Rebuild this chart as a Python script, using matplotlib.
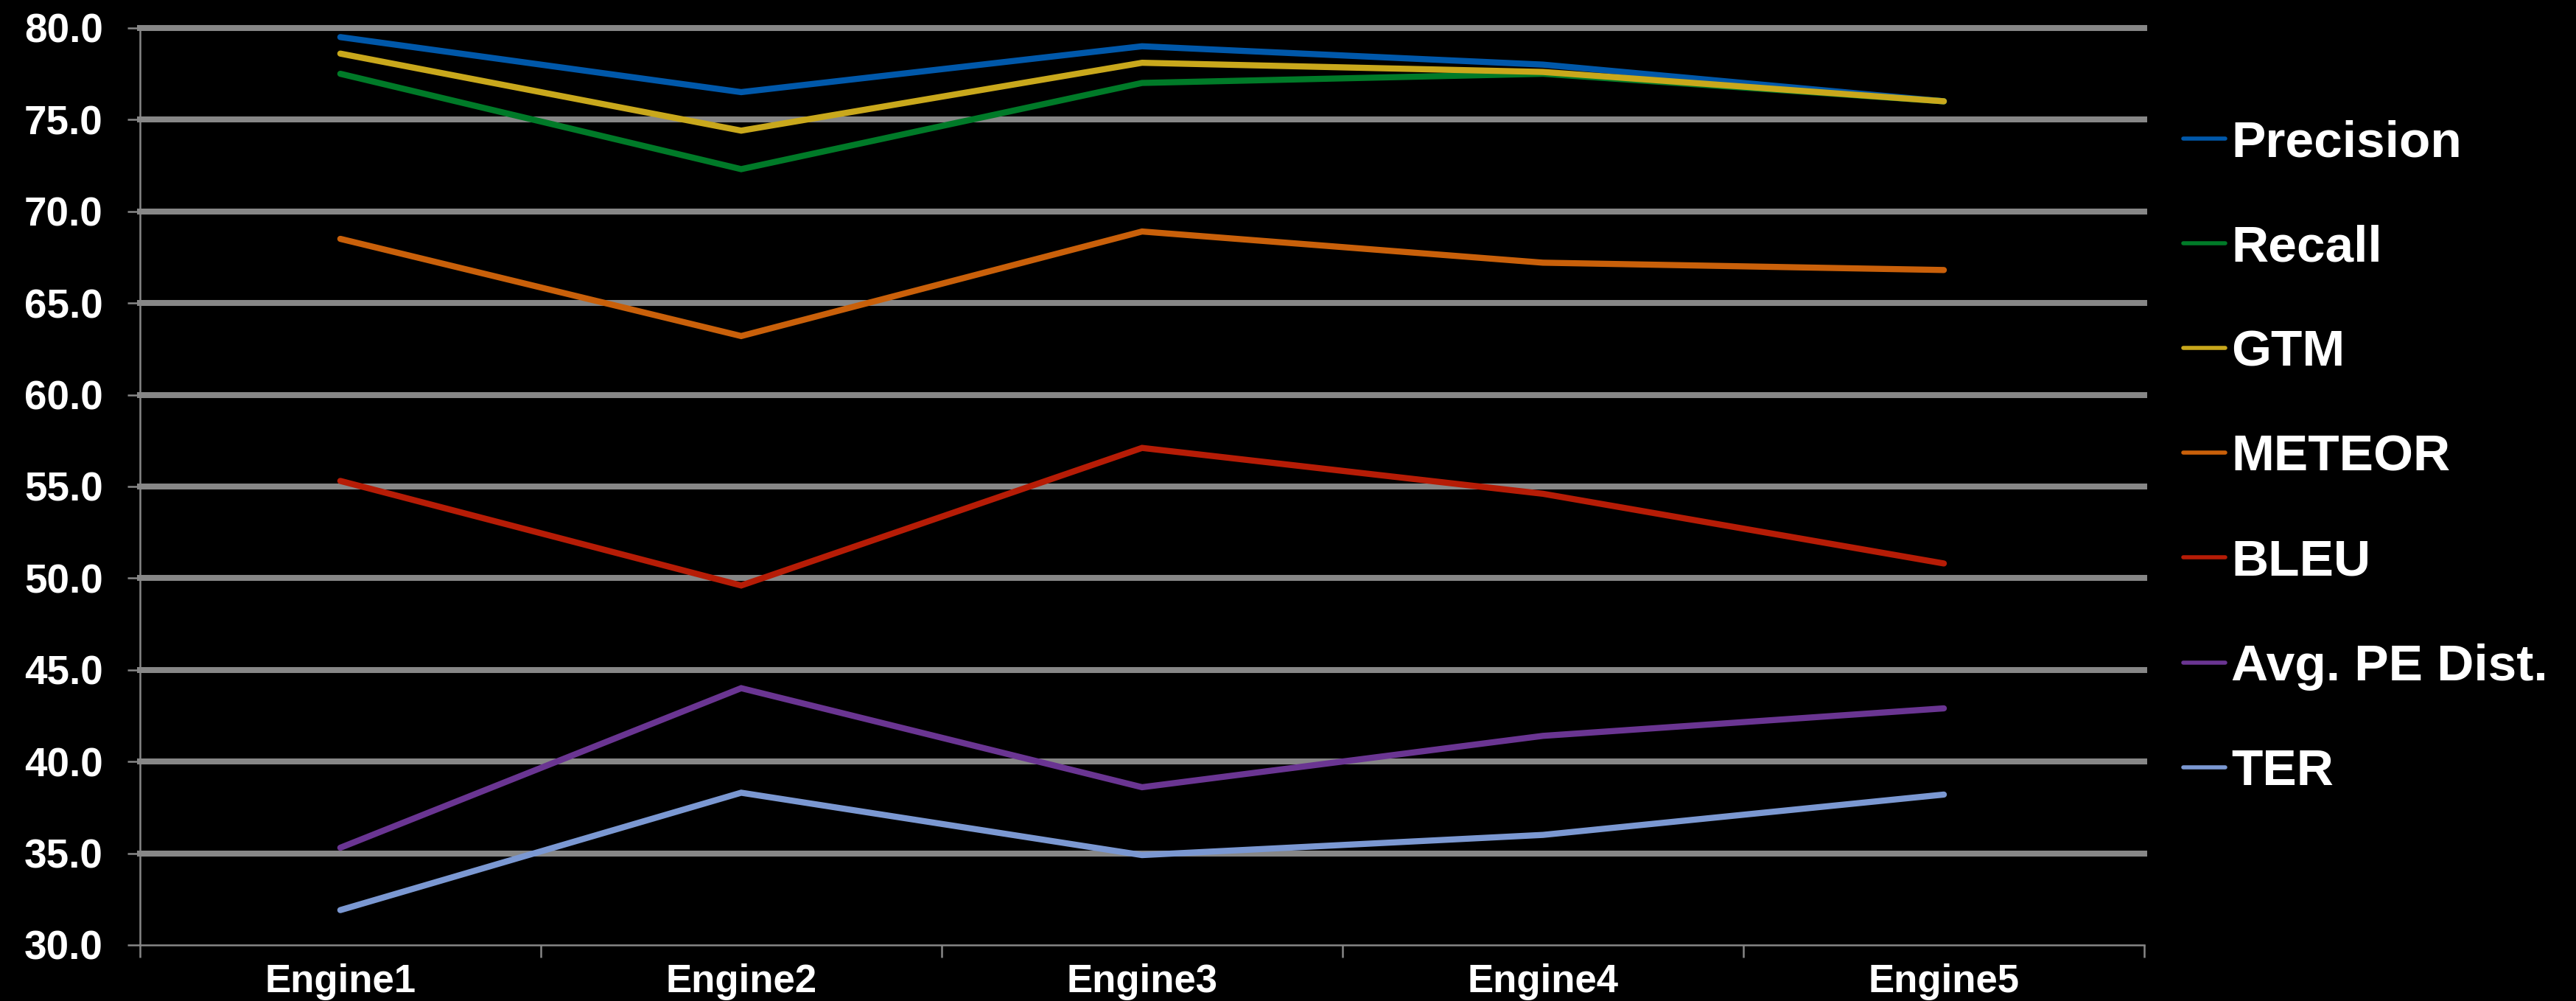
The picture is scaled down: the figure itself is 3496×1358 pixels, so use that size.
import matplotlib
matplotlib.use("Agg")
import matplotlib.pyplot as plt

ENGINES = ["Engine1", "Engine2", "Engine3", "Engine4", "Engine5"]
METRICS = ["Precision", "Recall", "GTM", "METEOR", "BLEU", "Avg. PE Dist.", "TER"]

precision = [79.5, 76.5, 79.0, 78.0, 76.0]
recall    = [77.5, 72.3, 77.0, 77.5, 76.0]
gtm       = [78.6, 74.4, 78.1, 77.6, 76.0]
meteor    = [68.5, 63.2, 68.9, 67.2, 66.8]
bleu      = [55.3, 49.6, 57.1, 54.6, 50.8]
avg_pe    = [35.3, 44.0, 38.6, 41.4, 42.9]
ter       = [31.9, 38.3, 34.9, 36.0, 38.2]

SERIES = [precision, recall, gtm, meteor, bleu, avg_pe, ter]
COLORS = ["#0058AA", "#007A28", "#C9A81C", "#C9600A", "#B61C06", "#6A3592", "#7B98D2"]

Y_TICKS = [30, 35, 40, 45, 50, 55, 60, 65, 70, 75, 80]

GRID = "#878787"
FONT = "Liberation Sans"

fig = plt.figure(figsize=(34.96, 13.58), dpi=100, facecolor="black")
ax = fig.add_axes([0.0543, 0.0560, 0.7781, 0.9161], facecolor="black")

x = list(range(len(ENGINES)))
for vals, name, col in zip(SERIES, METRICS, COLORS):
    ax.plot(x, vals, color=col, lw=6.0, label=name,
            solid_capstyle="round", solid_joinstyle="miter", zorder=3)

ax.set_ylim(30, 80)
ax.set_xlim(-0.5, len(ENGINES) - 0.5)
ax.set_yticks(Y_TICKS)
ax.set_yticklabels([f"{v:.1f}" for v in Y_TICKS])

# boundaries carry the tick marks, centres carry the names
ax.set_xticks([i - 0.5 for i in range(len(ENGINES) + 1)])
ax.set_xticklabels([])
ax.set_xticks(x, minor=True)
ax.set_xticklabels(ENGINES, minor=True)

ax.yaxis.grid(True, color=GRID, lw=5.8, zorder=1)
grid_lines = ax.get_ygridlines()
grid_lines[0].set_visible(False)   # the axis line sits at 30
for gl in grid_lines:
    gl.set_clip_on(False)
ax.set_axisbelow(True)

for side in ("top", "right"):
    ax.spines[side].set_visible(False)
for side in ("left", "bottom"):
    ax.spines[side].set_color(GRID)
    ax.spines[side].set_linewidth(1.8)

ax.tick_params(axis="y", which="major", length=12, width=1.8, color=GRID,
               pad=24, labelcolor="white", labelsize=39.5)
ax.tick_params(axis="x", which="major", length=12, width=1.8, color=GRID)
ax.tick_params(axis="x", which="minor", length=0, pad=18,
               labelcolor="white", labelsize=38)
for lbl in ax.get_yticklabels() + ax.get_xticklabels(minor=True):
    lbl.set_fontfamily(FONT)
    lbl.set_fontweight("bold")

leg = ax.legend(loc="upper left", bbox_to_anchor=(0.8475, 0.8805),
                bbox_transform=fig.transFigure, frameon=False,
                borderpad=0, borderaxespad=0, handlelength=0.82,
                handletextpad=0.12, labelspacing=1.125,
                prop={"family": FONT, "weight": "bold", "size": 50})
for txt in leg.get_texts():
    txt.set_color("white")
for h in leg.get_lines():
    h.set_linewidth(4.0)

fig.savefig("out.png", dpi=100, facecolor="black")
